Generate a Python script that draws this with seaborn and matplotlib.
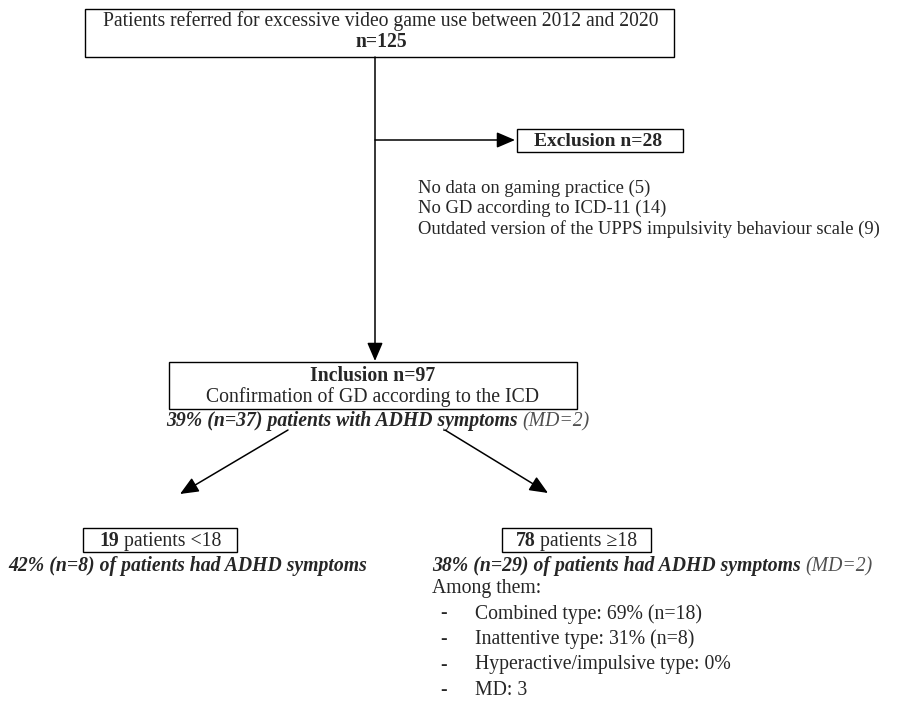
import seaborn as sns
import matplotlib.pyplot as plt
from matplotlib.patches import Rectangle

# flow chart numbers
years = [2012, 2020]
n_referred = 125
n_excluded = 28
exclusion_reasons = ["No data on gaming practice", "No GD according to ICD-11",
                     "Outdated version of the UPPS impulsivity behaviour scale"]
exclusion_counts = [5, 14, 9]
n_included = 97
adhd_pct_all = 39
adhd_n_all = 37
md_all = 2
group_labels = ["<18", "\u226518"]
group_n = [19, 78]
group_adhd_pct = [42, 38]
group_adhd_n = [8, 29]
group_md = [None, 2]
subtype_labels = ["Combined type", "Inattentive type", "Hyperactive/impulsive type"]
subtype_pct = [69, 31, 0]
subtype_n = [18, 8, None]
subtype_md = 3

sns.set_theme(style="white")
plt.rcParams['font.family'] = ['Liberation Serif', 'DejaVu Serif']
GREY = "#505050"
FS = 14.2

fig = plt.figure(figsize=(9.09, 7.11), dpi=100)
ax = fig.add_axes([0, 0, 1, 1])
ax.set_xlim(0, 909)
ax.set_ylim(711, 0)
ax.axis("off")


def box(x0, y0, x1, y1):
    ax.add_patch(Rectangle((x0, y0), x1 - x0, y1 - y0, fill=False, ec="black", lw=1.0))


def arrow(x0, y0, x1, y1):
    ax.annotate("", xy=(x1, y1), xytext=(x0, y0),
                arrowprops=dict(arrowstyle="-|>,head_length=0.7,head_width=0.3",
                                color="black", lw=1.1, mutation_scale=16,
                                shrinkA=0, shrinkB=0))


def rich(x, y, parts, fs, ha="left"):
    # parts: list of (text, props) drawn one after the other
    first = ax.text(x, y, parts[0][0], ha="left", va="center", fontsize=fs, **parts[0][1])
    prev = first
    for txt, props in parts[1:]:
        prev = ax.annotate(txt, xy=(1, 0), xycoords=prev, ha="left", va="bottom",
                           fontsize=fs, **props)
    if ha == "center":
        r = fig.canvas.get_renderer()
        w = prev.get_window_extent(r).x1 - first.get_window_extent(r).x0
        first.set_x(x - w / 2)
    return first


# top box
box(85, 9, 674, 57)
ax.text(381, 21, f"Patients referred for excessive video game use between {years[0]} and {years[1]}",
        ha="center", va="center", fontsize=14.1)
ax.text(381, 42, f"n={n_referred}", ha="center", va="center", fontsize=14.1, fontweight="bold")

# main vertical arrow + exclusion branch
arrow(375, 57, 375, 361)
arrow(375, 140, 515, 140)
box(517, 129, 683, 152)
ax.text(598, 141, f"Exclusion n={n_excluded}", ha="center", va="center",
        fontsize=14, fontweight="bold")
for i, (reason, c) in enumerate(zip(exclusion_reasons, exclusion_counts)):
    ax.text(418, 188 + i * 20.5, f"{reason} ({c})", ha="left", va="center", fontsize=13.4)

# inclusion box
box(169, 362, 577, 409)
ax.text(373, 376, f"Inclusion n={n_included}", ha="center", va="center",
        fontsize=FS, fontweight="bold")
ax.text(373, 397, "Confirmation of GD according to the ICD", ha="center", va="center",
        fontsize=FS)
rich(378, 421, [(f"{adhd_pct_all}% (n={adhd_n_all}) patients with ADHD symptoms ",
                 dict(fontweight="bold", fontstyle="italic")),
                (f"(MD={md_all})", dict(fontstyle="italic", color=GREY))], FS, ha="center")

# split arrows
arrow(288, 430, 180, 494)
arrow(445, 430, 548, 493)

# age groups
group_boxes = [(83, 237), (502, 651)]
text_x = [8, 432]
for (x0, x1), tx, lab, n, pct, an, md in zip(group_boxes, text_x, group_labels, group_n,
                                              group_adhd_pct, group_adhd_n, group_md):
    box(x0, 528, x1, 552)
    rich((x0 + x1) / 2, 541, [(f"{n}", dict(fontweight="bold")),
                              (f" patients {lab}", dict())], FS, ha="center")
    parts = [(f"{pct}% (n={an}) of patients had ADHD symptoms",
              dict(fontweight="bold", fontstyle="italic"))]
    if md is not None:
        parts[0] = (parts[0][0] + " ", parts[0][1])
        parts.append((f"(MD={md})", dict(fontstyle="italic", color=GREY)))
    rich(tx, 566, parts, FS)

# ADHD subtypes for adults
ax.text(432, 589, "Among them:", ha="left", va="center", fontsize=FS)
items = []
for lab, p, n in zip(subtype_labels, subtype_pct, subtype_n):
    items.append(f"{lab}: {p}%" + (f" (n={n})" if n is not None else ""))
items.append(f"MD: {subtype_md}")
for i, it in enumerate(items):
    y = 614 + i * 25.5
    ax.text(440, y, "-", ha="left", va="center", fontsize=FS)
    ax.text(475, y, it, ha="left", va="center", fontsize=FS)

fig.savefig("out.png", dpi=100)
